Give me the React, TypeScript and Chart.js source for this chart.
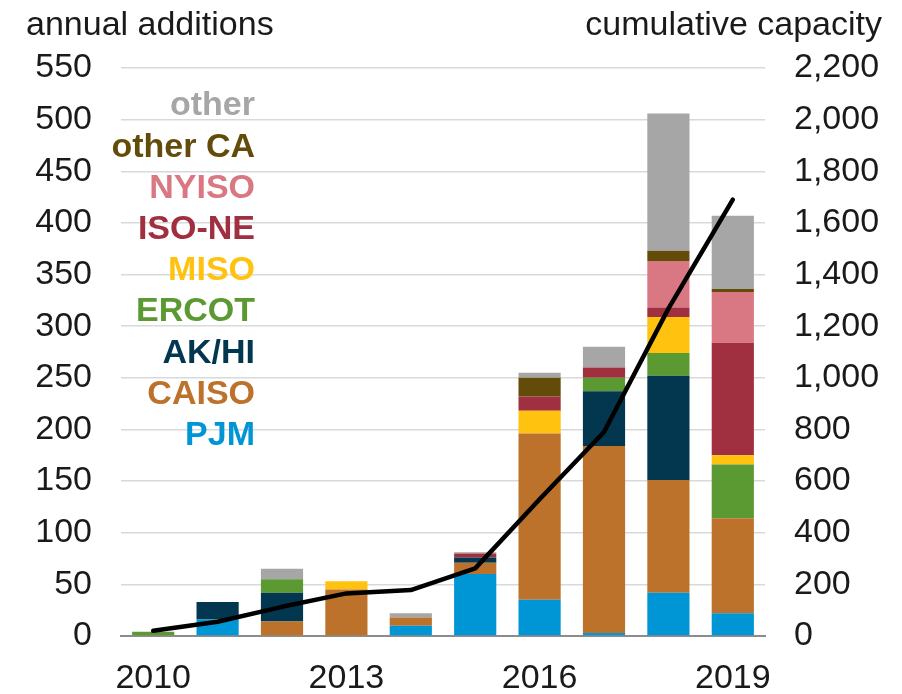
import React, { useEffect, useRef } from "react";
import { Chart, registerables } from "chart.js";

Chart.register(...registerables);

const years = ["2010", "2011", "2012", "2013", "2014", "2015", "2016", "2017", "2018", "2019"];
const pjm = [0, 16, 0, 0, 10, 60, 35, 3, 42, 22];
const caiso = [0, 0, 14, 45, 8, 11, 161, 181, 109, 92];
const akhi = [0, 17, 28, 0, 0, 5, 0, 53, 101, 0];
const ercot = [4, 0, 13, 0, 0, 0, 0, 13, 22, 52];
const miso = [0, 0, 0, 8, 0, 0, 22, 0, 35, 9];
const isone = [0, 0, 0, 0, 0, 4, 14, 10, 9, 109];
const nyiso = [0, 0, 0, 0, 0, 0, 0, 0, 45, 49];
const otherCA = [0, 0, 0, 0, 0, 0, 18, 0, 10, 3];
const other = [0, 0, 10, 0, 4, 1, 5, 20, 133, 71];
const cumulative = [20, 55, 113, 165, 178, 262, 530, 790, 1268, 1690];

const seriesNames = ["PJM", "CAISO", "AK/HI", "ERCOT", "MISO", "ISO-NE", "NYISO", "other CA", "other"];
const seriesData = [pjm, caiso, akhi, ercot, miso, isone, nyiso, otherCA, other];
const seriesColors = ["#0096D6", "#BC722B", "#03374F", "#5B9A32", "#FFC20E", "#A0303F", "#D97783", "#634C0A", "#A6A6A6"];

const leftTicks = { min: 0, max: 550, step: 50 };
const rightTicks = { min: 0, max: 2200, step: 200 };
const leftTitle = "annual additions";
const rightTitle = "cumulative capacity";

const FONT = '"Liberation Sans", Arial, sans-serif';

export default function App() {
  const ref = useRef<HTMLCanvasElement | null>(null);

  useEffect(() => {
    if (!ref.current) return;
    const textPlugin = {
      id: "texts",
      afterDraw(chart: any) {
        const ctx = chart.ctx;
        ctx.save();
        ctx.font = `34px ${FONT}`;
        ctx.fillStyle = "#1a1a1a";
        ctx.textBaseline = "alphabetic";
        ctx.textAlign = "left";
        ctx.fillText(leftTitle, 26, 35);
        ctx.textAlign = "right";
        ctx.fillText(rightTitle, 882, 35);
        ctx.font = `bold 34px ${FONT}`;
        ctx.textBaseline = "middle";
        ctx.textAlign = "right";
        const n = seriesNames.length;
        for (let i = 0; i < n; i++) {
          const idx = n - 1 - i;
          ctx.fillStyle = seriesColors[idx];
          ctx.fillText(seriesNames[idx], 255, 106 + 41.2 * i);
        }
        ctx.restore();
      },
    };

    const datasets: any[] = seriesNames.map((name, i) => ({
      type: "bar",
      label: name,
      data: seriesData[i],
      backgroundColor: seriesColors[i],
      borderWidth: 0,
      yAxisID: "y",
      stack: "s",
      order: 2,
      barPercentage: 0.655,
      categoryPercentage: 1,
    }));
    datasets.push({
      type: "line",
      label: "cumulative",
      data: cumulative,
      borderColor: "#000000",
      borderWidth: 4.5,
      pointRadius: 0,
      tension: 0,
      yAxisID: "y1",
      order: 0,
      borderCapStyle: "round",
      borderJoinStyle: "round",
    });

    const chart = new Chart(ref.current, {
      type: "bar",
      data: { labels: years, datasets },
      options: {
        animation: false,
        responsive: false,
        maintainAspectRatio: false,
        layout: { padding: { top: 68, bottom: 0, left: 0, right: 0 } },
        plugins: { legend: { display: false }, tooltip: { enabled: false } },
        scales: {
          x: {
            stacked: true,
            grid: { display: false, drawTicks: false },
            border: { display: true, color: "#8c8c8c", width: 2 },
            ticks: {
              autoSkip: false,
              maxRotation: 0,
              padding: 22,
              color: "#1a1a1a",
              font: { family: FONT, size: 34 },
              callback: (_v: any, i: number) => (i % 3 === 0 ? years[i] : ""),
            },
            afterFit: (s: any) => {
              s.height = 58;
            },
          },
          y: {
            position: "left",
            stacked: true,
            min: leftTicks.min,
            max: leftTicks.max,
            grid: { color: "#d9d9d9", lineWidth: 1.5, drawTicks: false },
            border: { display: false },
            ticks: {
              stepSize: leftTicks.step,
              padding: 29,
              color: "#1a1a1a",
              font: { family: FONT, size: 34 },
            },
            afterFit: (s: any) => {
              s.width = 121;
            },
          },
          y1: {
            position: "right",
            stacked: false,
            min: rightTicks.min,
            max: rightTicks.max,
            grid: { drawOnChartArea: false, drawTicks: false },
            border: { display: false },
            ticks: {
              stepSize: rightTicks.step,
              padding: 29,
              color: "#1a1a1a",
              font: { family: FONT, size: 34 },
              callback: (v: any) => Number(v).toLocaleString("en-US"),
            },
            afterFit: (s: any) => {
              s.width = 137;
            },
          },
        },
      },
      plugins: [textPlugin],
    });
    return () => chart.destroy();
  }, []);

  return (
    <div style={{ position: "fixed", left: 0, top: 0, width: 902, height: 694, background: "#fff" }}>
      <canvas ref={ref} width={902} height={694} style={{ width: 902, height: 694, display: "block" }} />
    </div>
  );
}
